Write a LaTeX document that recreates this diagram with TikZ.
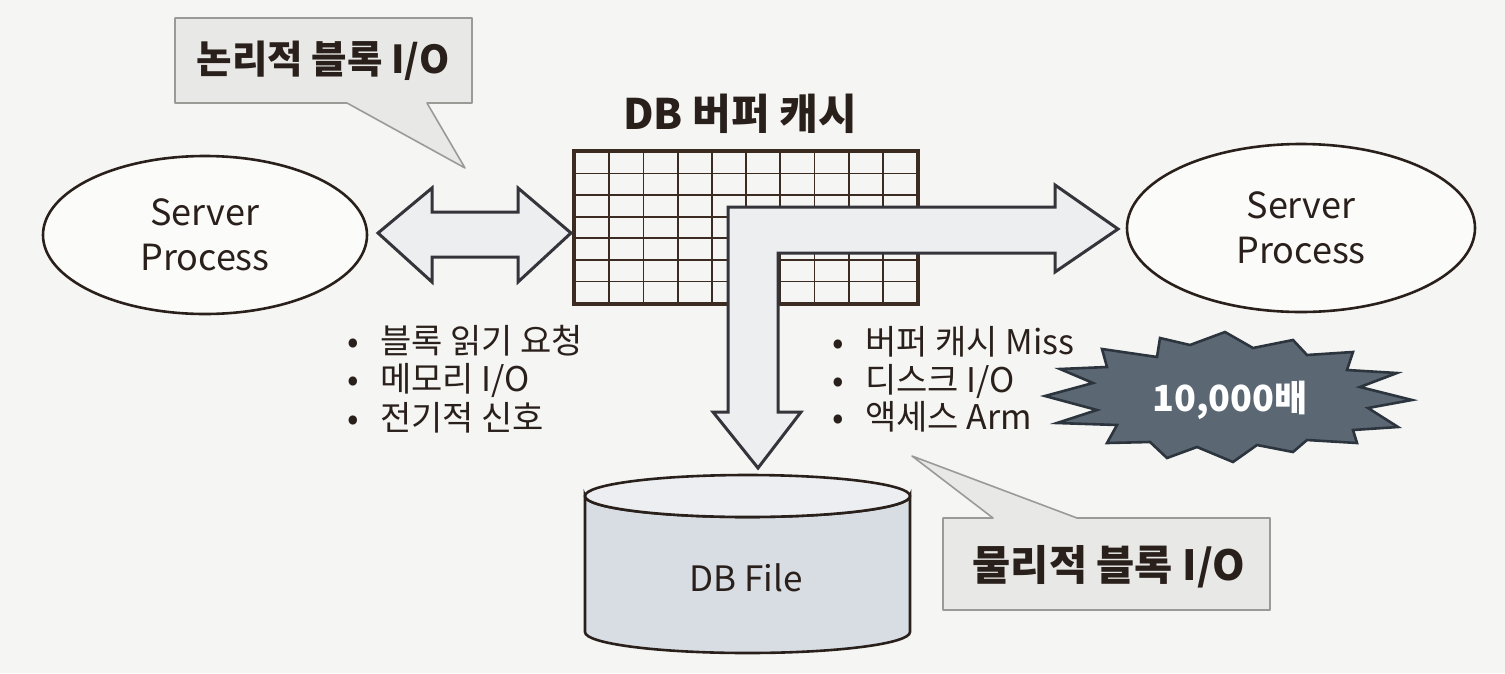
\documentclass[tikz,border=0pt]{standalone}
\usepackage{fontspec}
\setmainfont{Noto Sans CJK KR}
\usetikzlibrary{shapes.geometric}
\definecolor{bg}{HTML}{F5F5F3}
\definecolor{ink}{HTML}{2A201B}
\definecolor{callfill}{HTML}{E8E8E6}
\definecolor{calldraw}{HTML}{9A9A96}
\definecolor{arrfill}{HTML}{ECEEF0}
\definecolor{arrdraw}{HTML}{34343A}
\definecolor{cylbody}{HTML}{D8DDE4}
\definecolor{cyltop}{HTML}{ECEEF1}
\definecolor{starfill}{HTML}{5B6773}
\definecolor{stardraw}{HTML}{2C343E}
\definecolor{gridc}{HTML}{3B2B20}
\tikzset{
  proc/.style={ellipse, draw=ink, line width=2.6pt, fill=white!60!bg, text=ink,
    align=center, font=\fontsize{36}{45}\selectfont, inner sep=0pt},
  callbox/.style={fill=callfill, draw=calldraw, line width=1.6pt, line join=round},
  calltext/.style={text=ink, font=\fontsize{38.5}{44}\selectfont\bfseries, inner sep=0pt},
  blockarrow/.style={fill=arrfill, draw=arrdraw, line width=3pt, line join=miter},
  bul/.style={text=ink, font=\fontsize{34}{38}\selectfont, anchor=base west, inner sep=0pt},
  gridl/.style={draw=gridc, line width=1.8pt},
  title/.style={text=ink, font=\fontsize{42}{48}\selectfont\bfseries, inner sep=0pt}
}
\begin{document}
\begin{tikzpicture}[x=1pt,y=-1pt]
\useasboundingbox[fill=bg] (0,0) rectangle (1505,673);

% top-left callout
\draw[callbox] (175,18) -- (472,18) -- (472,103) -- (427,103) -- (465,168) -- (347,103) -- (175,103) -- cycle;
\node[calltext] (logio) at (323,61) {논리적 블록 I/O};

% title of cache
\node[title] (cachetitle) at (740,114) {DB 버퍼 캐시};

% cache grid
\node[draw=gridc, line width=2.8pt, minimum width=342pt, minimum height=151pt, inner sep=0pt] (cache) at (746,227.5) {};
\foreach \i in {1,...,9} \draw[gridl] ({575+\i*34.2},152) -- ({575+\i*34.2},303);
\foreach \j in {1,...,6} \draw[gridl] (575,{152+\j*21.571}) -- (917,{152+\j*21.571});
\draw[draw=gridc, line width=2.8pt] (cache.north west) rectangle (cache.south east);

% server processes
\node[proc, minimum width=324pt, minimum height=158pt] (sp1) at (205,235) {Server\\Process};
\node[proc, minimum width=348pt, minimum height=168pt] (sp2) at (1301,228) {Server\\Process};

% double arrow
\draw[blockarrow] (378,233) -- (432,188) -- (432,212) -- (518,212) -- (518,188) -- (571,233)
  -- (518,282) -- (518,257) -- (432,257) -- (432,282) -- cycle;

% L arrow
\draw[blockarrow] (728,412) -- (713,412) -- (758,468) -- (801,412) -- (778,412) -- (778,253)
  -- (1055,253) -- (1055,272) -- (1118,229) -- (1055,185) -- (1055,207) -- (728,207) -- cycle;

% bullets left
\node[bul] (l1) at (347,353) {\makebox[33pt][l]{•}블록 읽기 요청};
\node[bul] (l2) at (347,391) {\makebox[33pt][l]{•}메모리 I/O};
\node[bul] (l3) at (347,430) {\makebox[33pt][l]{•}전기적 신호};

% bullets right
\node[bul] (r1) at (832,354) {\makebox[33pt][l]{•}버퍼 캐시 Miss};
\node[bul] (r2) at (832,392) {\makebox[33pt][l]{•}디스크 I/O};
\node[bul] (r3) at (832,429) {\makebox[33pt][l]{•}액세스 Arm};

% starburst
\draw[fill=starfill, draw=stardraw, line width=2.6pt, line join=miter]
  (1045,396) -- (1093,383) -- (1060,369) -- (1107,367) -- (1102,349) -- (1157,357)
  -- (1160,338) -- (1190,345) -- (1225,332) -- (1253,348) -- (1293,340) -- (1307,355)
  -- (1353,352) -- (1347,370) -- (1397,373) -- (1360,387) -- (1412,400) -- (1368,408)
  -- (1398,427) -- (1353,430) -- (1357,443) -- (1307,440) -- (1293,452) -- (1257,445)
  -- (1233,462) -- (1197,447) -- (1167,458) -- (1150,442) -- (1107,443) -- (1117,425)
  -- (1057,423) -- (1097,410) -- cycle;
\node[text=white, font=\fontsize{36}{40}\selectfont\bfseries, inner sep=0pt] (ratio) at (1230,400) {10,000배};

% cylinder
\draw[fill=cylbody, draw=ink, line width=2.6pt]
  (585,496) -- (585,632) arc[start angle=180, end angle=0, x radius=162.5, y radius=21]
  -- (910,496) arc[start angle=0, end angle=180, x radius=162.5, y radius=21] -- cycle;
\draw[fill=cyltop, draw=ink, line width=2.6pt] (747.5,496) ellipse [x radius=162.5, y radius=21];
\node[text=ink, font=\fontsize{35}{40}\selectfont, inner sep=0pt] (dbfile) at (746,578) {DB File};

% bottom callout
\draw[callbox] (943,518) -- (993,518) -- (912,456) -- (1077,518) -- (1270,518) -- (1270,610) -- (943,610) -- cycle;
\node[calltext, font=\fontsize{41.5}{46}\selectfont\bfseries] (physio) at (1109,567) {물리적 블록 I/O};
\end{tikzpicture}
\end{document}
